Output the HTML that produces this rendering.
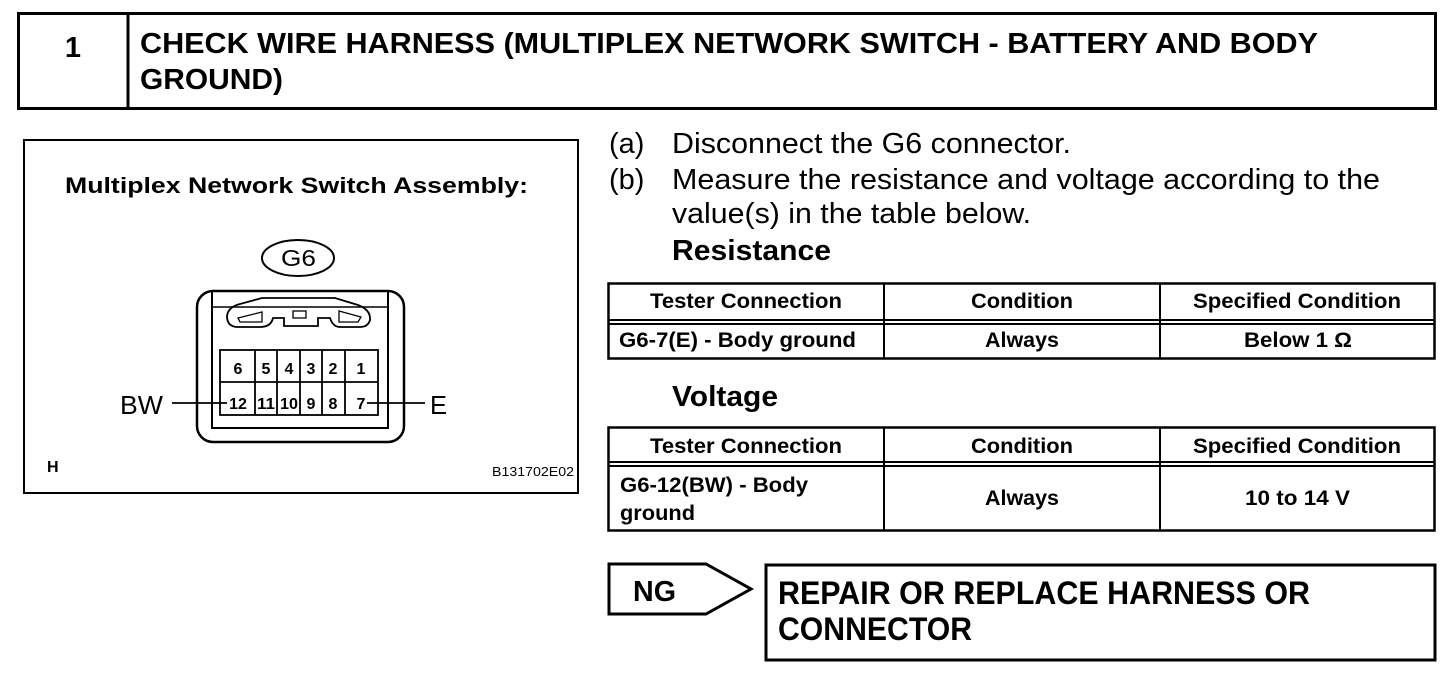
<!DOCTYPE html>
<html><head><meta charset="utf-8"><style>
html,body{margin:0;padding:0;background:#fff;}
svg{display:block;}
text{font-family:"Liberation Sans",Arial,sans-serif;fill:#000;}
.b{font-weight:bold;}
</style></head><body>
<svg width="1456" height="676" viewBox="0 0 1456 676" xmlns="http://www.w3.org/2000/svg">
<rect x="18.5" y="13.5" width="1417" height="95" fill="none" stroke="#000" stroke-width="3"/>
<line x1="128" y1="13" x2="128" y2="109" stroke="#000" stroke-width="3"/>
<text x="73" y="57" class="b" font-size="29" text-anchor="middle">1</text>
<text x="140" y="53" class="b" font-size="29" textLength="1178" lengthAdjust="spacingAndGlyphs">CHECK WIRE HARNESS (MULTIPLEX NETWORK SWITCH - BATTERY AND BODY</text>
<text x="140" y="89" class="b" font-size="29" textLength="143" lengthAdjust="spacingAndGlyphs">GROUND)</text>

<rect x="24" y="140" width="554" height="353" fill="none" stroke="#000" stroke-width="2"/>
<text x="65" y="193" class="b" font-size="22" textLength="463" lengthAdjust="spacingAndGlyphs">Multiplex Network Switch Assembly:</text>
<ellipse cx="298" cy="258" rx="36" ry="18" fill="none" stroke="#000" stroke-width="2"/>
<text x="281" y="266" font-size="23" textLength="35" lengthAdjust="spacingAndGlyphs">G6</text>
<rect x="197" y="291" width="207" height="151" rx="16" fill="none" stroke="#000" stroke-width="2.5"/>
<path d="M212 292 V428 H388 V292" fill="none" stroke="#000" stroke-width="2"/>
<path d="M212 307 H388" stroke="#000" stroke-width="1.5"/>
<path d="M227 316 Q228 307 240 304 L262 298 H335 L358 305 Q371 310 370 320 Q368 327 360 327 H340 Q333 327 330 318 H318 V326 H284 V318 H273 Q271 327 260 327 H238 Q227 327 227 316 Z" fill="none" stroke="#000" stroke-width="1.8"/>
<path d="M238 318 L262 312 V322 H240 Z" fill="none" stroke="#000" stroke-width="1.3"/>
<path d="M339 311 L361 317 L358 322 H339 Z" fill="none" stroke="#000" stroke-width="1.3"/>
<rect x="293" y="311" width="13" height="7" fill="none" stroke="#000" stroke-width="1.3"/>
<g stroke="#000" stroke-width="1.8" fill="none">
<rect x="220" y="350" width="158" height="65"/>
<line x1="220" y1="382" x2="378" y2="382"/>
<line x1="255" y1="350" x2="255" y2="415"/>
<line x1="277" y1="350" x2="277" y2="415"/>
<line x1="300" y1="350" x2="300" y2="415"/>
<line x1="322" y1="350" x2="322" y2="415"/>
<line x1="345" y1="350" x2="345" y2="415"/>
<line x1="172" y1="403" x2="227" y2="403"/>
<line x1="367" y1="403" x2="425" y2="403"/>
</g>
<g font-size="16" text-anchor="middle" font-weight="bold">
<text x="238" y="374">6</text><text x="266" y="374">5</text><text x="289" y="374">4</text><text x="311" y="374">3</text><text x="333" y="374">2</text><text x="361" y="374">1</text>
<text x="238" y="409">12</text><text x="266" y="409" textLength="18" lengthAdjust="spacingAndGlyphs">11</text><text x="289" y="409" textLength="18" lengthAdjust="spacingAndGlyphs">10</text><text x="311" y="409">9</text><text x="333" y="409">8</text><text x="361" y="409">7</text>
</g>
<text x="120" y="414" font-size="26" textLength="43" lengthAdjust="spacingAndGlyphs">BW</text>
<text x="430" y="414" font-size="26" textLength="17" lengthAdjust="spacingAndGlyphs">E</text>
<text x="47" y="472" class="b" font-size="16">H</text>
<text x="574" y="476" font-size="13" text-anchor="end" textLength="82" lengthAdjust="spacingAndGlyphs">B131702E02</text>

<g font-size="29">
<text x="609" y="153">(a)</text><text x="672" y="153" textLength="399" lengthAdjust="spacingAndGlyphs">Disconnect the G6 connector.</text>
<text x="609" y="189">(b)</text><text x="672" y="189" textLength="708" lengthAdjust="spacingAndGlyphs">Measure the resistance and voltage according to the</text>
<text x="672" y="223" textLength="359" lengthAdjust="spacingAndGlyphs">value(s) in the table below.</text>
</g>
<text x="672" y="260" class="b" font-size="29" textLength="159" lengthAdjust="spacingAndGlyphs">Resistance</text>

<g stroke="#000" fill="none">
<rect x="608.5" y="283.5" width="826" height="75" stroke-width="2.5"/>
<line x1="608" y1="320" x2="1435" y2="320" stroke-width="2"/>
<line x1="608" y1="324" x2="1435" y2="324" stroke-width="2"/>
<line x1="884" y1="283" x2="884" y2="358" stroke-width="2"/>
<line x1="1160" y1="283" x2="1160" y2="358" stroke-width="2"/>
</g>
<g font-size="21" font-weight="bold">
<text x="650" y="308" textLength="192" lengthAdjust="spacingAndGlyphs">Tester Connection</text>
<text x="971" y="308" textLength="102" lengthAdjust="spacingAndGlyphs">Condition</text>
<text x="1193" y="308" textLength="208" lengthAdjust="spacingAndGlyphs">Specified Condition</text>
<text x="619" y="347" textLength="237" lengthAdjust="spacingAndGlyphs">G6-7(E) - Body ground</text>
<text x="985" y="347" textLength="74" lengthAdjust="spacingAndGlyphs">Always</text>
<text x="1244" y="347" textLength="108" lengthAdjust="spacingAndGlyphs">Below 1 Ω</text>
</g>

<text x="672" y="406" class="b" font-size="29" textLength="106" lengthAdjust="spacingAndGlyphs">Voltage</text>

<g stroke="#000" fill="none">
<rect x="608.5" y="427.5" width="826" height="103" stroke-width="2.5"/>
<line x1="608" y1="462" x2="1435" y2="462" stroke-width="2"/>
<line x1="608" y1="466" x2="1435" y2="466" stroke-width="2"/>
<line x1="884" y1="427" x2="884" y2="531" stroke-width="2"/>
<line x1="1160" y1="427" x2="1160" y2="531" stroke-width="2"/>
</g>
<g font-size="21" font-weight="bold">
<text x="650" y="453" textLength="192" lengthAdjust="spacingAndGlyphs">Tester Connection</text>
<text x="971" y="453" textLength="102" lengthAdjust="spacingAndGlyphs">Condition</text>
<text x="1193" y="453" textLength="208" lengthAdjust="spacingAndGlyphs">Specified Condition</text>
<text x="985" y="505" textLength="74" lengthAdjust="spacingAndGlyphs">Always</text>
<text x="1245" y="505" textLength="105" lengthAdjust="spacingAndGlyphs">10 to 14 V</text>
<text x="620" y="492" textLength="188" lengthAdjust="spacingAndGlyphs">G6-12(BW) - Body</text>
<text x="620" y="520" textLength="75" lengthAdjust="spacingAndGlyphs">ground</text>
</g>

<path d="M609 564 H706 L751 589 L706 614 H609 Z" fill="none" stroke="#000" stroke-width="3"/>
<text x="633" y="601" class="b" font-size="29" textLength="43" lengthAdjust="spacingAndGlyphs">NG</text>
<rect x="766" y="565" width="669" height="95" fill="none" stroke="#000" stroke-width="3"/>
<text x="778" y="604" class="b" font-size="32" textLength="532" lengthAdjust="spacingAndGlyphs">REPAIR OR REPLACE HARNESS OR</text>
<text x="778" y="640" class="b" font-size="32" textLength="194" lengthAdjust="spacingAndGlyphs">CONNECTOR</text>
</svg>
</body></html>
